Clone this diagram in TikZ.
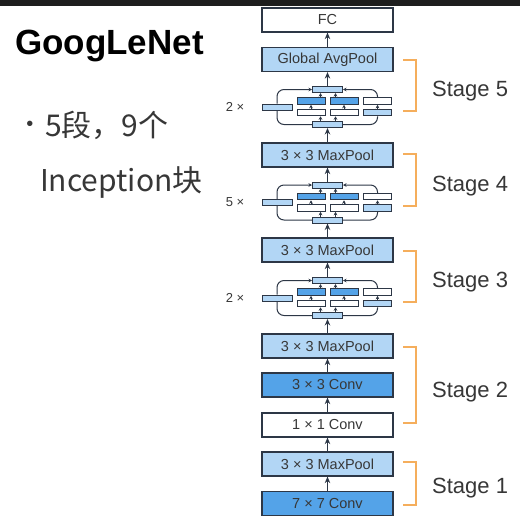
\documentclass[tikz,border=0pt]{standalone}
\usepackage{fontspec}
\setmainfont{Liberation Sans}
\newfontfamily\cjk{Noto Sans CJK SC}
\usetikzlibrary{positioning,arrows.meta}
\definecolor{lightblue}{RGB}{178,214,245}
\definecolor{darkblue}{RGB}{84,163,232}
\definecolor{edgegray}{RGB}{45,55,70}
\definecolor{textgray}{RGB}{55,55,55}
\definecolor{bracketorange}{RGB}{245,174,92}
\definecolor{topbar}{RGB}{30,30,30}

\begin{document}
\begin{tikzpicture}[
			x=1pt, y=-1pt,
			>={Stealth[length=6.5pt,width=5.5pt]},
			layer/.style={draw=edgegray, line width=1.2pt, minimum width=131pt, minimum height=24pt, inner sep=0pt, font=\fontsize{14.5}{15}\selectfont, text=textgray},
			light/.style={fill=lightblue},
			dark/.style={fill=darkblue},
			blank/.style={fill=white},
			unit/.style={draw=edgegray, line width=1pt, minimum width=28pt, minimum height=6.5pt, inner sep=0pt},
			wide/.style={unit, minimum width=30pt, minimum height=6pt},
			link/.style={draw=edgegray, line width=1.1pt, ->},
			tiny/.style={draw=edgegray, line width=0.8pt, -{Stealth[length=3.5pt,width=3.5pt]}},
			loop/.style={draw=edgegray, line width=1pt, rounded corners=7pt},
			bracket/.style={draw=bracketorange, line width=1.6pt},
			stage/.style={font=\fontsize{22}{24}\selectfont, text=textgray, anchor=base west, inner sep=0pt},
		]
		\useasboundingbox (0,0) rectangle (520,531);
		\fill[topbar] (0,0) rectangle (520,6);

		% Title and bullet text
		\node[anchor=base west, inner sep=0pt, font=\bfseries\fontsize{35}{38}\selectfont] (title) at (15,54) {GoogLeNet};
		\node[anchor=base, inner sep=0pt, font=\fontsize{20}{20}\selectfont, text=textgray] (dot) at (30,130) {•};
		\node[anchor=base west, inner sep=0pt, font=\cjk\fontsize{30}{32}\selectfont, text=textgray] (line1) at (45,136) {5段，9个};
		\node[anchor=base west, inner sep=0pt, font=\cjk\fontsize{30}{32}\selectfont, text=textgray] (line2) at (40,191) {Inception块};

		% Main layers
		\node[layer, blank] (FC) at (327.5,20) {FC};
		\node[layer, light] (GAP) at (327.5,59.5) {Global AvgPool};
		\node[layer, light] (P4) at (327.5,155) {3 × 3 MaxPool};
		\node[layer, light] (P3) at (327.5,250) {3 × 3 MaxPool};
		\node[layer, light] (P2) at (327.5,346) {3 × 3 MaxPool};
		\node[layer, dark] (C3) at (327.5,385) {3 × 3 Conv};
		\node[layer, blank] (C1) at (327.5,425) {1 × 1 Conv};
		\node[layer, light] (P1) at (327.5,464) {3 × 3 MaxPool};
		\node[layer, dark] (C7) at (327.5,503.5) {7 × 7 Conv};

		% Inception blocks
		\foreach \c/\n/\k in {107/5/2, 202.5/4/5, 298/3/2} {
			\node[wide, light] (I\n-t) at (327.5,\c-17.5) {};
			\node[wide, light] (I\n-b) at (327.5,\c+17.5) {};
			\node[wide, light] (I\n-l) at (277,\c) {};
			\node[unit, dark] (I\n-a1) at (311,\c-6) {};
			\node[unit, dark] (I\n-b1) at (344,\c-6) {};
			\node[unit, blank] (I\n-c1) at (377.5,\c-6) {};
			\node[unit, blank] (I\n-a2) at (311,\c+5.5) {};
			\node[unit, blank] (I\n-b2) at (344,\c+5.5) {};
			\node[unit, light] (I\n-c2) at (377.5,\c+5.5) {};

			\draw[loop] (I\n-b.west) -| (I\n-l.south);
			\draw[loop, tiny, line width=1pt] (I\n-l.north) |- (I\n-t.west);
			\draw[loop] (I\n-b.east) -| (I\n-c2.south);
			\draw[tiny] (I\n-c2) -- (I\n-c1);
			\draw[loop, tiny, line width=1pt] (I\n-c1.north) |- (I\n-t.east);

			\draw[tiny] ([xshift=-7pt]I\n-b.north) -- ([xshift=-7pt]I\n-b.north |- I\n-a2.south);
			\draw[tiny] ([xshift=8pt]I\n-b.north) -- ([xshift=8pt]I\n-b.north |- I\n-b2.south);
			\draw[tiny] (I\n-a2) -- (I\n-a1);
			\draw[tiny] (I\n-b2) -- (I\n-b1);
			\draw[tiny] ([xshift=-7pt]I\n-t.south |- I\n-a1.north) -- ([xshift=-7pt]I\n-t.south);
			\draw[tiny] ([xshift=8pt]I\n-t.south |- I\n-b1.north) -- ([xshift=8pt]I\n-t.south);

			\node[font=\fontsize{13}{13}\selectfont, text=textgray] (X\n) at (235,\c) {\k\ ×};
		}

		% Connections
		\draw[link] (C7) -- (P1);
		\draw[link] (P1) -- (C1);
		\draw[link] (C1) -- (C3);
		\draw[link] (C3) -- (P2);
		\draw[link] (P2) -- (I3-b);
		\draw[link] (I3-t) -- (P3);
		\draw[link] (P3) -- (I4-b);
		\draw[link] (I4-t) -- (P4);
		\draw[link] (P4) -- (I5-b);
		\draw[link] (I5-t) -- (GAP);
		\draw[link] (GAP) -- (FC);

		% Stage brackets
		\foreach \n/\t/\b/\s in {5/60/111/96, 4/154/206/191, 3/251/302/287, 2/347/423/397, 1/462/505/493} {
			\draw[bracket] (403,\t) -- (416,\t) -- (416,\b) -- (403,\b);
			\node[stage] (S\n) at (432,\s) {Stage \n};
		}
	\end{tikzpicture}
\end{document}
